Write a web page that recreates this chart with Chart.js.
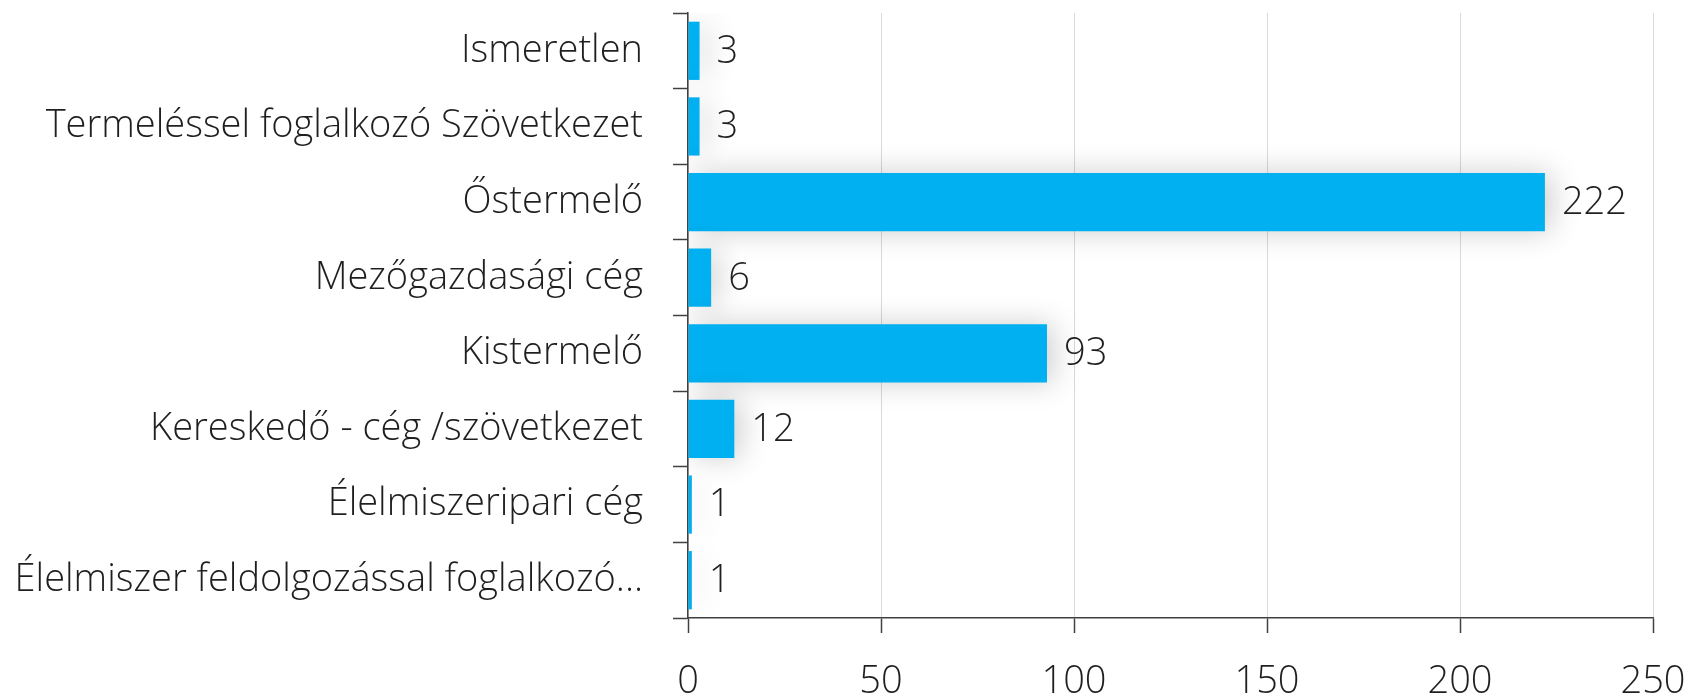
<!DOCTYPE html>
<html>
<head>
<meta charset="utf-8">
<script src="https://cdn.jsdelivr.net/npm/chart.js@4.4.1/dist/chart.umd.min.js"></script>
<style>
  html, body { margin: 0; padding: 0; background: #ffffff; }
  #wrap { width: 1690px; height: 699px; position: relative; }
</style>
</head>
<body>
<div id="wrap"><canvas id="c" width="1690" height="699"></canvas></div>
<script>
const categories = [
  "Ismeretlen",
  "Termeléssel foglalkozó Szövetkezet",
  "Őstermelő",
  "Mezőgazdasági cég",
  "Kistermelő",
  "Kereskedő - cég /szövetkezet",
  "Élelmiszeripari cég",
  "Élelmiszer feldolgozással foglalkozó..."
];
const values = [3, 3, 222, 6, 93, 12, 1, 1];
const xMin = 0;
const xMax = 250;
const xStep = 50;

const FONT_FAMILY = "'Open Sans', 'DejaVu Sans', sans-serif";
const FONT_SIZE = 38;
const TEXT_COLOR = "#1f1f1f";
const AXIS_COLOR = "#404040";

const shadowPlugin = {
  id: 'barShadow',
  beforeDatasetDraw(chart) {
    const ctx = chart.ctx;
    ctx.save();
    ctx.shadowColor = 'rgba(0,0,0,0.2)';
    ctx.shadowBlur = 30;
    ctx.shadowOffsetX = 6;
    ctx.shadowOffsetY = 0;
  },
  afterDatasetDraw(chart) {
    chart.ctx.restore();
  }
};

const valueLabelPlugin = {
  id: 'valueLabels',
  afterDatasetsDraw(chart) {
    const ctx = chart.ctx;
    const meta = chart.getDatasetMeta(0);
    ctx.save();
    ctx.font = "300 " + FONT_SIZE + "px " + FONT_FAMILY;
    ctx.fillStyle = TEXT_COLOR;
    ctx.textAlign = 'left';
    ctx.textBaseline = 'middle';
    meta.data.forEach((bar, i) => {
      ctx.fillText(String(values[i]), bar.x + 17, bar.y + 1);
    });
    ctx.restore();
  }
};

new Chart(document.getElementById('c'), {
  type: 'bar',
  data: {
    labels: categories,
    datasets: [{
      data: values,
      backgroundColor: '#00B0F0',
      borderWidth: 0,
      barPercentage: 0.77,
      categoryPercentage: 1.0
    }]
  },
  plugins: [shadowPlugin, valueLabelPlugin],
  options: {
    indexAxis: 'y',
    responsive: false,
    animation: false,
    devicePixelRatio: 1,
    layout: { padding: { top: 13, right: 37, left: 0, bottom: 0 } },
    plugins: {
      legend: { display: false },
      tooltip: { enabled: false }
    },
    scales: {
      x: {
        min: xMin,
        max: xMax,
        afterFit(scale) {
          scale.height = 81;
          scale.paddingLeft = 0;
          scale.paddingRight = 0;
        },
        ticks: {
          stepSize: xStep,
          color: TEXT_COLOR,
          padding: 26,
          font: { family: FONT_FAMILY, size: FONT_SIZE, weight: '300' }
        },
        grid: {
          color: '#d9d9d9',
          lineWidth: 1,
          tickColor: AXIS_COLOR,
          tickLength: 15,
          tickWidth: 1.5
        },
        border: { display: true, color: AXIS_COLOR, width: 1.5 }
      },
      y: {
        afterFit(scale) {
          scale.width = 688;
          scale.paddingTop = 0;
          scale.paddingBottom = 0;
        },
        ticks: {
          color: TEXT_COLOR,
          padding: 30,
          autoSkip: false,
          font: { family: FONT_FAMILY, size: FONT_SIZE, weight: '300' }
        },
        grid: {
          drawOnChartArea: false,
          offset: true,
          tickColor: AXIS_COLOR,
          tickLength: 15,
          tickWidth: 1.5
        },
        border: { display: true, color: AXIS_COLOR, width: 1.5 }
      }
    }
  }
});
</script>
</body>
</html>
